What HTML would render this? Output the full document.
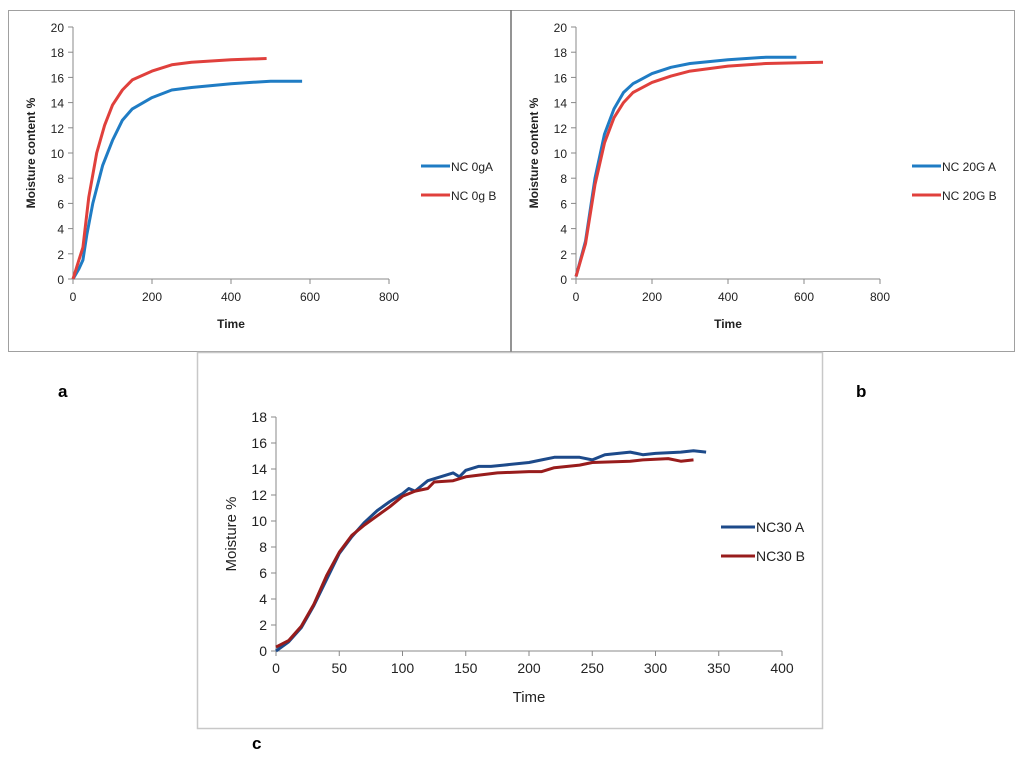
<!DOCTYPE html>
<html><head><meta charset="utf-8"><style>
html,body{margin:0;padding:0;background:#fff;}
svg{display:block;font-family:"Liberation Sans",sans-serif;}
</style></head><body>
<svg id="s" width="1024" height="757" viewBox="0 0 1024 757">
<rect x="0" y="0" width="1024" height="757" fill="#fff"/>
<rect x="8.5" y="10.5" width="1006" height="341" fill="none" stroke="#a0a0a0"/>
<line x1="511" y1="10" x2="511" y2="352" stroke="#707070" stroke-width="1.5"/>
<rect x="197.5" y="352.5" width="625" height="376" fill="none" stroke="#c8c8c8" stroke-width="1.5"/>
<text x="58" y="397" font-size="17" font-weight="bold">a</text>
<text x="856" y="397" font-size="17" font-weight="bold">b</text>
<text x="252" y="749" font-size="17" font-weight="bold">c</text>
<g id="g"></g>
</svg>
<script>
const aX=[0,15,25,35,50,75,100,125,150,200,250,300,400,500,580];
const aA=[0,0.8,1.5,3.5,6,9,11,12.6,13.5,14.4,15,15.2,15.5,15.7,15.7];
const aXB=[0,15,25,40,60,80,100,125,150,200,250,300,400,490];
const aB=[0,1.5,2.5,6.5,10,12.2,13.8,15,15.8,16.5,17,17.2,17.4,17.5];
const bX=[0,25,50,75,100,125,150,200,250,300,400,500,580];
const bA=[0.2,3,8,11.5,13.5,14.8,15.5,16.3,16.8,17.1,17.4,17.6,17.6];
const bXB=[0,25,50,75,100,125,150,200,250,300,400,500,650];
const bB=[0.2,2.8,7.5,10.8,12.8,14,14.8,15.6,16.1,16.5,16.9,17.1,17.2];
const cXA=[0,10,20,30,40,50,60,70,80,90,100,105,110,120,130,140,145,150,160,170,180,200,210,220,240,250,260,280,290,300,320,330,340];
const cA=[0,0.7,1.8,3.5,5.5,7.5,8.8,9.9,10.8,11.5,12.1,12.5,12.3,13.1,13.4,13.7,13.4,13.9,14.2,14.2,14.3,14.5,14.7,14.9,14.9,14.7,15.1,15.3,15.1,15.2,15.3,15.4,15.3];
const cXB=[0,10,20,30,40,50,60,70,80,90,100,110,120,125,140,150,175,200,210,220,240,250,280,290,310,320,330];
const cB=[0.3,0.8,1.9,3.6,5.8,7.6,8.9,9.7,10.4,11.1,11.9,12.3,12.5,13,13.1,13.4,13.7,13.8,13.8,14.1,14.3,14.5,14.6,14.7,14.8,14.6,14.7];
const abXTicks=[0,200,400,600,800];
const abYTicks=[0,2,4,6,8,10,12,14,16,18,20];
const cXTicks=[0,50,100,150,200,250,300,350,400];
const cYTicks=[0,2,4,6,8,10,12,14,16,18];
const NS="http://www.w3.org/2000/svg";
const g=document.getElementById('g');
function mk(t,a,p){const e=document.createElementNS(NS,t);for(const k in a)e.setAttribute(k,a[k]);(p||g).appendChild(e);return e;}
function panel(o){
  const grp=mk('g',{});
  
  
  const sx=v=>o.x0+(v-o.xmin)/(o.xmax-o.xmin)*(o.x1-o.x0);
  const sy=v=>o.y0-(v-o.ymin)/(o.ymax-o.ymin)*(o.y0-o.y1);
  const xa=mk('line',{x1:o.x0,y1:o.y0,x2:o.x1,y2:o.y0,stroke:'#888'},grp);
  
  const ya=mk('line',{x1:o.x0,y1:o.y0,x2:o.x0,y2:o.y1,stroke:'#888'},grp);
  
  o.xt.forEach(v=>{mk('line',{x1:sx(v),y1:o.y0,x2:sx(v),y2:o.y0+5,stroke:'#888'},grp);
    const t=mk('text',{x:sx(v),y:o.y0+22,'font-size':o.fs,'text-anchor':'middle',fill:'#222'},grp);t.textContent=v;
    });
  o.yt.forEach(v=>{mk('line',{x1:o.x0-5,y1:sy(v),x2:o.x0,y2:sy(v),stroke:'#888'},grp);
    const t=mk('text',{x:o.x0-9,y:sy(v)+5,'font-size':o.fs,'text-anchor':'end',fill:'#222'},grp);t.textContent=v;
    });
  const xt=mk('text',{x:(o.x0+o.x1)/2,y:o.y0+o.xtY,'font-size':o.tfs,'font-weight':o.bold?'bold':'normal','text-anchor':'middle',fill:'#222'},grp);
  xt.textContent='Time';
  const ytx=o.x0-o.ytX, yty=(o.y0+o.y1)/2;
  const yt=mk('text',{x:ytx,y:yty,'font-size':o.tfs,'font-weight':o.bold?'bold':'normal','text-anchor':'middle',fill:'#222',transform:`rotate(-90 ${ytx} ${yty})`},grp);
  yt.textContent=o.ytitle;
  o.series.forEach((s,i)=>{
    const d=s.x.map((v,j)=>(j?'L':'M')+sx(v).toFixed(1)+','+sy(s.y[j]).toFixed(1)).join('');
    const p=mk('path',{d:d,fill:'none',stroke:s.c,'stroke-width':o.sw,'stroke-linejoin':'round'},grp);
    
    
    const ly=o.legY[i];
    const l=mk('line',{x1:o.legX,y1:ly,x2:o.legX+o.legW,y2:ly,stroke:s.c,'stroke-width':o.sw},grp);
    
    const t=mk('text',{x:o.legX+o.legW+1,y:ly+5,'font-size':o.lfs,fill:'#222'},grp);t.textContent=s.n;
    
  });
}
panel({name:'chart-a',x0:73,x1:389,y0:279,y1:27,xmin:0,xmax:800,ymin:0,ymax:20,xt:abXTicks,yt:abYTicks,fs:12,tfs:12,bold:true,xtY:49,ytX:38,ytitle:'Moisture content %',sw:3,
  series:[{x:aX,y:aA,c:'#1f7cc4',n:'NC 0gA'},{x:aXB,y:aB,c:'#e0403c',n:'NC 0g B'}],legX:421,legW:29,legY:[166,195],lfs:12});
panel({name:'chart-b',x0:576,x1:880,y0:279,y1:27,xmin:0,xmax:800,ymin:0,ymax:20,xt:abXTicks,yt:abYTicks,fs:12,tfs:12,bold:true,xtY:49,ytX:38,ytitle:'Moisture content %',sw:3,
  series:[{x:bX,y:bA,c:'#1f7cc4',n:'NC 20G A'},{x:bXB,y:bB,c:'#e0403c',n:'NC 20G B'}],legX:912,legW:29,legY:[166,195],lfs:12});
panel({name:'chart-c',x0:276,x1:782,y0:651,y1:417,xmin:0,xmax:400,ymin:0,ymax:18,xt:cXTicks,yt:cYTicks,fs:14,tfs:15,bold:false,xtY:51,ytX:40,ytitle:'Moisture %',sw:3,
  series:[{x:cXA,y:cA,c:'#1d4a8a',n:'NC30 A'},{x:cXB,y:cB,c:'#981c1c',n:'NC30 B'}],legX:721,legW:34,legY:[527,556],lfs:14});
</script>
</body></html>
